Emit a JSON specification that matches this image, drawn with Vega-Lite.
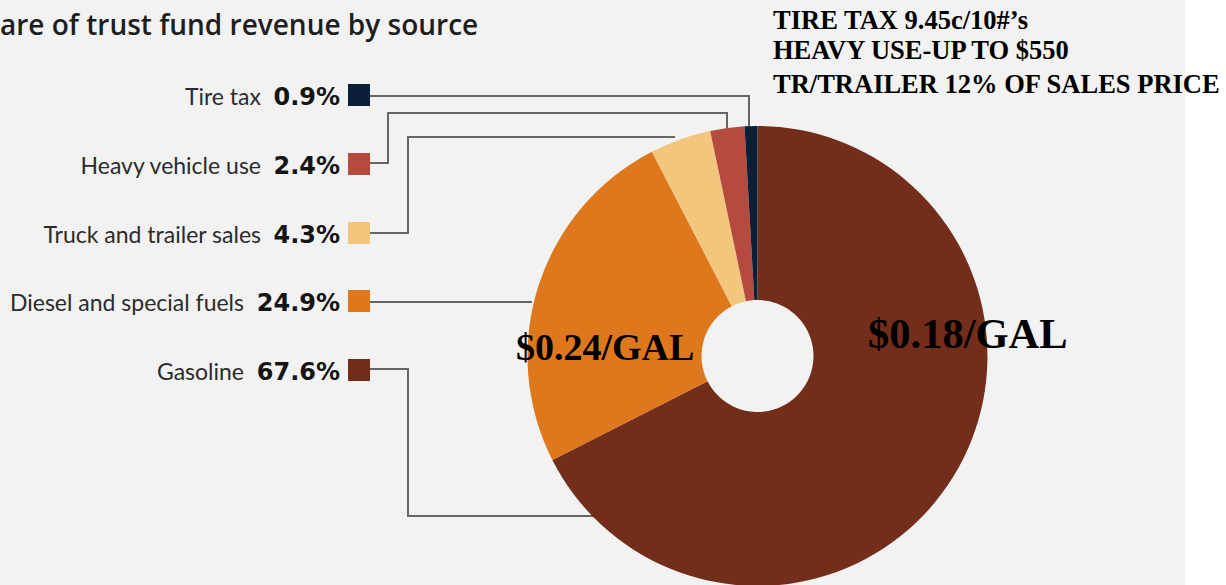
{
  "$schema": "https://vega.github.io/schema/vega-lite/v6.json",
  "width": 1226,
  "height": 585,
  "autosize": {"type": "none"},
  "padding": 0,
  "background": "white",
  "config": {"view": {"stroke": null}},
  "layer": [
    {
      "data": {"values": [{"x": 0, "x2": 1185, "y": 0, "y2": 585}]},
      "mark": {"type": "rect", "fill": "#f2f2f2"},
      "encoding": {
        "x": {"field": "x", "type": "quantitative", "scale": {"domain": [0, 1226], "nice": false, "zero": false}, "axis": null},
        "x2": {"field": "x2"},
        "y": {"field": "y", "type": "quantitative", "scale": {"domain": [0, 585], "reverse": true, "nice": false, "zero": false}, "axis": null},
        "y2": {"field": "y2"}
      }
    },
    {
      "data": {"values": [{"t": "are of trust fund revenue by source", "x": 0, "y": 35}]},
      "mark": {"type": "text", "align": "left", "baseline": "alphabetic", "font": "Open Sans", "fontWeight": 600, "fontSize": 28, "color": "#1e1e1e"},
      "encoding": {
        "x": {"field": "x", "type": "quantitative", "scale": {"domain": [0, 1226], "nice": false, "zero": false}, "axis": null},
        "y": {"field": "y", "type": "quantitative", "scale": {"domain": [0, 585], "reverse": true, "nice": false, "zero": false}, "axis": null},
        "text": {"field": "t"}
      }
    },
    {
      "data": {"values": [
        {"seg": "Tire tax", "ord": 1, "x": 370, "y": 96},
        {"seg": "Tire tax", "ord": 2, "x": 749, "y": 96},
        {"seg": "Tire tax", "ord": 3, "x": 749, "y": 126},
        {"seg": "Heavy vehicle use", "ord": 1, "x": 370, "y": 163},
        {"seg": "Heavy vehicle use", "ord": 2, "x": 388, "y": 163},
        {"seg": "Heavy vehicle use", "ord": 3, "x": 388, "y": 113},
        {"seg": "Heavy vehicle use", "ord": 4, "x": 727, "y": 113},
        {"seg": "Heavy vehicle use", "ord": 5, "x": 727, "y": 128},
        {"seg": "Truck and trailer sales", "ord": 1, "x": 370, "y": 233},
        {"seg": "Truck and trailer sales", "ord": 2, "x": 408, "y": 233},
        {"seg": "Truck and trailer sales", "ord": 3, "x": 408, "y": 137},
        {"seg": "Truck and trailer sales", "ord": 4, "x": 675, "y": 137},
        {"seg": "Diesel and special fuels", "ord": 1, "x": 370, "y": 302},
        {"seg": "Diesel and special fuels", "ord": 2, "x": 532, "y": 302},
        {"seg": "Gasoline", "ord": 1, "x": 370, "y": 369},
        {"seg": "Gasoline", "ord": 2, "x": 408, "y": 369},
        {"seg": "Gasoline", "ord": 3, "x": 408, "y": 516},
        {"seg": "Gasoline", "ord": 4, "x": 594, "y": 516}
      ]},
      "mark": {"type": "line", "color": "#666666", "strokeWidth": 2, "interpolate": "linear"},
      "encoding": {
        "x": {"field": "x", "type": "quantitative", "scale": {"domain": [0, 1226], "nice": false, "zero": false}, "axis": null},
        "y": {"field": "y", "type": "quantitative", "scale": {"domain": [0, 585], "reverse": true, "nice": false, "zero": false}, "axis": null},
        "detail": {"field": "seg"},
        "order": {"field": "ord", "type": "quantitative"}
      }
    },
    {
      "data": {"name": "shares", "values": [
        {"source": "Gasoline", "share": 67.6, "ord": 1},
        {"source": "Diesel and special fuels", "share": 24.9, "ord": 2},
        {"source": "Truck and trailer sales", "share": 4.3, "ord": 3},
        {"source": "Heavy vehicle use", "share": 2.4, "ord": 4},
        {"source": "Tire tax", "share": 0.9, "ord": 5}
      ]},
      "mark": {"type": "arc", "radius": 230, "radius2": 56},
      "encoding": {
        "x": {"datum": 757.5, "type": "quantitative", "scale": {"domain": [0, 1226], "nice": false, "zero": false}, "axis": null},
        "y": {"datum": 356, "type": "quantitative", "scale": {"domain": [0, 585], "reverse": true, "nice": false, "zero": false}, "axis": null},
        "theta": {"field": "share", "type": "quantitative", "stack": true},
        "order": {"field": "ord", "type": "quantitative"},
        "color": {"field": "source", "type": "nominal", "legend": null,
          "scale": {"domain": ["Gasoline", "Diesel and special fuels", "Truck and trailer sales", "Heavy vehicle use", "Tire tax"],
                    "range": ["#722e1a", "#df771d", "#f2c67c", "#b54a3e", "#0b1f38"]}}
      }
    },
    {
      "data": {"name": "labels", "values": [
        {"source": "Tire tax", "pct": "0.9%", "ly": 95, "nx": 261},
        {"source": "Heavy vehicle use", "pct": "2.4%", "ly": 164, "nx": 261},
        {"source": "Truck and trailer sales", "pct": "4.3%", "ly": 233, "nx": 261},
        {"source": "Diesel and special fuels", "pct": "24.9%", "ly": 301, "nx": 244},
        {"source": "Gasoline", "pct": "67.6%", "ly": 370, "nx": 244}
      ]},
      "layer": [
        {
          "mark": {"type": "point", "shape": "square", "size": 484, "filled": true, "opacity": 1},
          "encoding": {
            "x": {"datum": 359, "type": "quantitative", "scale": {"domain": [0, 1226], "nice": false, "zero": false}, "axis": null},
            "y": {"field": "ly", "type": "quantitative", "scale": {"domain": [0, 585], "reverse": true, "nice": false, "zero": false}, "axis": null},
            "color": {"field": "source", "type": "nominal", "legend": null}
          }
        },
        {
          "mark": {"type": "text", "align": "right", "baseline": "alphabetic", "dy": 10, "font": "DejaVu Sans", "fontWeight": "bold", "fontSize": 24, "color": "#151515"},
          "encoding": {
            "x": {"datum": 340, "type": "quantitative", "scale": {"domain": [0, 1226], "nice": false, "zero": false}, "axis": null},
            "y": {"field": "ly", "type": "quantitative", "scale": {"domain": [0, 585], "reverse": true, "nice": false, "zero": false}, "axis": null},
            "text": {"field": "pct"}
          }
        },
        {
          "mark": {"type": "text", "align": "right", "baseline": "alphabetic", "dy": 10, "font": "Lato", "fontSize": 23, "color": "#2b2b2b"},
          "encoding": {
            "x": {"field": "nx", "type": "quantitative", "scale": {"domain": [0, 1226], "nice": false, "zero": false}, "axis": null},
            "y": {"field": "ly", "type": "quantitative", "scale": {"domain": [0, 585], "reverse": true, "nice": false, "zero": false}, "axis": null},
            "text": {"field": "source"}
          }
        }
      ]
    },
    {
      "data": {"values": [
        {"t": "TIRE TAX 9.45c/10#’s", "x": 773, "y": 29},
        {"t": "HEAVY USE-UP TO $550", "x": 773, "y": 59},
        {"t": "TR/TRAILER 12% OF SALES PRICE", "x": 773, "y": 93}
      ]},
      "mark": {"type": "text", "align": "left", "baseline": "alphabetic", "font": "Liberation Serif", "fontWeight": "bold", "fontSize": 26.5, "color": "#000000"},
      "encoding": {
        "x": {"field": "x", "type": "quantitative", "scale": {"domain": [0, 1226], "nice": false, "zero": false}, "axis": null},
        "y": {"field": "y", "type": "quantitative", "scale": {"domain": [0, 585], "reverse": true, "nice": false, "zero": false}, "axis": null},
        "text": {"field": "t"}
      }
    },
    {
      "data": {"values": [{"t": "$0.24/GAL", "x": 516, "y": 360}]},
      "mark": {"type": "text", "align": "left", "baseline": "alphabetic", "font": "Liberation Serif", "fontWeight": "bold", "fontSize": 38, "color": "#000000"},
      "encoding": {
        "x": {"field": "x", "type": "quantitative", "scale": {"domain": [0, 1226], "nice": false, "zero": false}, "axis": null},
        "y": {"field": "y", "type": "quantitative", "scale": {"domain": [0, 585], "reverse": true, "nice": false, "zero": false}, "axis": null},
        "text": {"field": "t"}
      }
    },
    {
      "data": {"values": [{"t": "$0.18/GAL", "x": 868, "y": 348}]},
      "mark": {"type": "text", "align": "left", "baseline": "alphabetic", "font": "Liberation Serif", "fontWeight": "bold", "fontSize": 42.5, "color": "#000000"},
      "encoding": {
        "x": {"field": "x", "type": "quantitative", "scale": {"domain": [0, 1226], "nice": false, "zero": false}, "axis": null},
        "y": {"field": "y", "type": "quantitative", "scale": {"domain": [0, 585], "reverse": true, "nice": false, "zero": false}, "axis": null},
        "text": {"field": "t"}
      }
    }
  ]
}
